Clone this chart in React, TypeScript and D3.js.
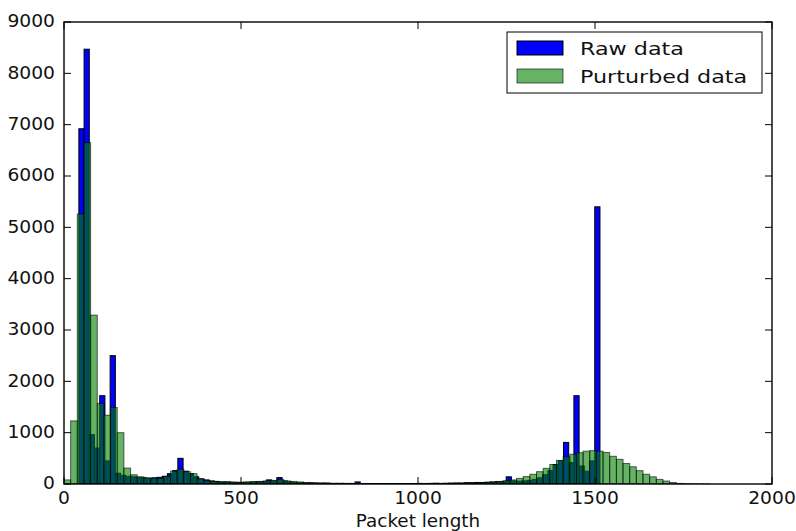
import React from "react";
import * as d3 from "d3";

// Histogram of packet lengths: raw capture vs. perturbed copy.
// Each series was binned into 100 equal-width bins over its own range.
const rawRange: [number, number] = [42, 1514];
const rawCounts: number[] = [
  6920, 8470, 960, 700, 1720, 450, 2500, 210, 170, 150,
  140, 130, 120, 110, 120, 130, 150, 200, 260, 500,
  250, 200, 140, 100, 80, 60, 50, 40, 40, 35,
  30, 30, 35, 40, 45, 50, 80, 60, 125, 60,
  40, 30, 25, 20, 20, 15, 15, 15, 10, 10,
  10, 10, 10, 40, 10, 8, 8, 8, 10, 8,
  8, 10, 8, 10, 10, 12, 10, 12, 15, 12,
  15, 18, 20, 20, 25, 25, 30, 30, 35, 40,
  45, 50, 140, 60, 55, 60, 70, 90, 120, 180,
  260, 380, 450, 810, 420, 1720, 350, 250, 450, 5400,
];

const perturbedRange: [number, number] = [0, 1880];
const perturbedCounts: number[] = [
  80, 1230, 5260, 6650, 3290, 1570, 1340, 1490, 1000, 310,
  180, 140, 120, 110, 110, 150, 250, 290, 240, 200,
  100, 60, 50, 40, 40, 35, 35, 40, 45, 50,
  60, 70, 90, 60, 50, 40, 30, 25, 20, 20,
  15, 15, 12, 12, 10, 10, 10, 8, 8, 8,
  8, 6, 6, 6, 5, 5, 5, 8, 10, 12,
  15, 18, 22, 30, 38, 50, 65, 80, 110, 145,
  190, 240, 305, 380, 460, 530, 580, 610, 640, 650,
  640, 615, 540, 480, 400, 335, 260, 190, 140, 90,
  58, 28, 12, 6, 3, 1, 1, 0, 0, 0,
];

const xTicks: number[] = [0, 500, 1000, 1500, 2000];
const yTicks: number[] = [0, 1000, 2000, 3000, 4000, 5000, 6000, 7000, 8000, 9000];
const seriesNames: string[] = ["Raw data", "Purturbed data"];
const xLabel = "Packet length";

const W = 796;
const H = 531;
const M = { left: 64, right: 772, top: 22, bottom: 484 };
const FONT = "'DejaVu Sans', Verdana, sans-serif";

type Bin = { x0: number; x1: number; n: number };

function toBins(range: [number, number], counts: number[]): Bin[] {
  const step = (range[1] - range[0]) / counts.length;
  return counts.map((n, i) => ({
    x0: range[0] + i * step,
    x1: range[0] + (i + 1) * step,
    n,
  }));
}

export default function App() {
  const x = d3.scaleLinear().domain([0, 2000]).range([M.left, M.right]);
  const y = d3.scaleLinear().domain([0, 9000]).range([M.bottom, M.top]);

  const raw = toBins(rawRange, rawCounts);
  const pert = toBins(perturbedRange, perturbedCounts);

  const tickLen = 7;
  const lg = { x: 507, y: 32, w: 255, h: 61 };

  return (
    <svg
      width={W}
      height={H}
      viewBox={`0 0 ${W} ${H}`}
      style={{ position: "absolute", left: 0, top: 0, background: "#fff" }}
    >
      <defs>
        <clipPath id="plot-area">
          <rect x={M.left} y={M.top} width={M.right - M.left} height={M.bottom - M.top} />
        </clipPath>
      </defs>
      <rect x={0} y={0} width={W} height={H} fill="#fff" />

      <g clipPath="url(#plot-area)">
        {raw.map((b, i) => (
          <rect
            key={`r${i}`}
            x={x(b.x0)}
            y={y(b.n)}
            width={x(b.x1) - x(b.x0)}
            height={y(0) - y(b.n)}
            fill="#0000ff"
            stroke="#000"
            strokeWidth={1}
          />
        ))}
        {pert.map((b, i) => (
          <rect
            key={`p${i}`}
            x={x(b.x0)}
            y={y(b.n)}
            width={x(b.x1) - x(b.x0)}
            height={y(0) - y(b.n)}
            fill="#008000"
            fillOpacity={0.6}
            stroke="#000"
            strokeOpacity={0.6}
            strokeWidth={1}
          />
        ))}
      </g>

      {/* ticks, pointing inward on all four sides */}
      <g stroke="#000" strokeWidth={1}>
        {xTicks.map((t) => (
          <g key={`xt${t}`}>
            <line x1={x(t)} x2={x(t)} y1={M.bottom} y2={M.bottom - tickLen} />
            <line x1={x(t)} x2={x(t)} y1={M.top} y2={M.top + tickLen} />
          </g>
        ))}
        {yTicks.map((t) => (
          <g key={`yt${t}`}>
            <line x1={M.left} x2={M.left + tickLen} y1={y(t)} y2={y(t)} />
            <line x1={M.right} x2={M.right - tickLen} y1={y(t)} y2={y(t)} />
          </g>
        ))}
      </g>

      <rect
        x={M.left}
        y={M.top}
        width={M.right - M.left}
        height={M.bottom - M.top}
        fill="none"
        stroke="#000"
        strokeWidth={1.4}
      />

      {/* tick labels */}
      <g fontFamily={FONT} fontSize={17} fill="#111">
        {xTicks.map((t) => (
          <text
            key={`xl${t}`}
            transform={`translate(${x(t)},${504}) scale(1.1,1)`}
            textAnchor="middle"
          >
            {t}
          </text>
        ))}
        {yTicks.map((t) => (
          <text
            key={`yl${t}`}
            transform={`translate(${M.left - 9},${y(t) - 1}) scale(1.1,1)`}
            textAnchor="end"
            dominantBaseline="central"
          >
            {t}
          </text>
        ))}
        <text
          transform={`translate(${(M.left + M.right) / 2},${527}) scale(1.08,1)`}
          textAnchor="middle"
        >
          {xLabel}
        </text>
      </g>

      {/* legend */}
      <g>
        <rect x={lg.x} y={lg.y} width={lg.w} height={lg.h} fill="#fff" stroke="#000" strokeWidth={1} />
        <rect x={517} y={41} width={46} height={14} fill="#0000ff" stroke="#000" strokeWidth={1} />
        <rect
          x={517}
          y={69}
          width={46}
          height={14}
          fill="#008000"
          fillOpacity={0.6}
          stroke="#000"
          strokeOpacity={0.6}
          strokeWidth={1}
        />
        <g fontFamily={FONT} fontSize={17.5} fill="#111">
          <text transform={`translate(580,54.5) scale(1.27,1)`}>{seriesNames[0]}</text>
          <text transform={`translate(580,82.5) scale(1.27,1)`}>{seriesNames[1]}</text>
        </g>
      </g>
    </svg>
  );
}
